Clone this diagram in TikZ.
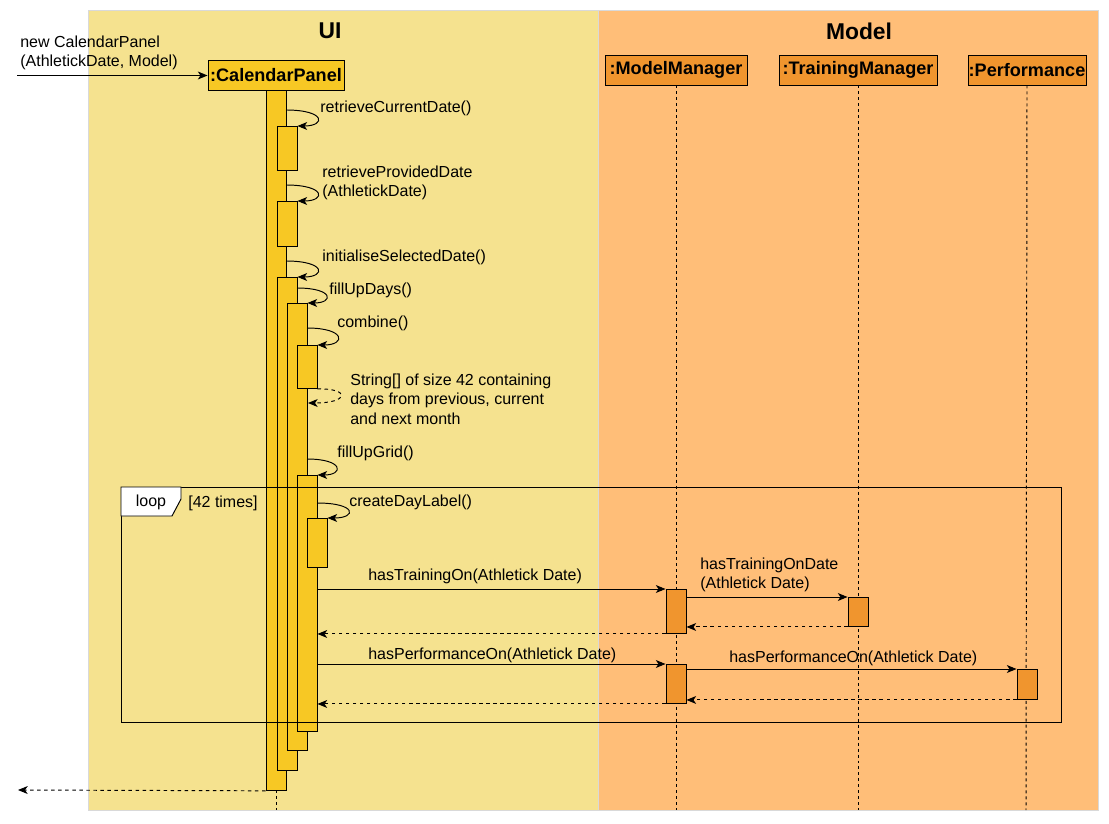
\documentclass[tikz,border=0pt]{standalone}
\usepackage{fontspec}
\setmainfont{Liberation Sans}
\usetikzlibrary{arrows.meta}

\definecolor{uibg}{HTML}{F5E28F}
\definecolor{modelbg}{HTML}{FFBE78}
\definecolor{uiyellow}{HTML}{F7C824}
\definecolor{modelorange}{HTML}{F0952E}
\definecolor{laneedge}{HTML}{D9D9D9}

\tikzset{
  every node/.style={font=\fontsize{9.1}{11.2}\selectfont, inner sep=0pt},
  lbl/.style={anchor=west, align=left},
  lanetitle/.style={font=\fontsize{13}{15}\selectfont\bfseries},
  obj/.style={draw=black, line width=0.55pt, minimum height=0.6cm,
    font=\fontsize{10.3}{12}\selectfont\bfseries},
  act/.style={draw=black, line width=0.55pt, fill=uiyellow, minimum width=0.4cm, anchor=north},
  life/.style={line width=0.55pt, dash pattern=on 1.7pt off 1.7pt},
  msg/.style={line width=0.55pt, -{Stealth[length=5.5pt,width=4.5pt,inset=1.5pt]}},
  ret/.style={msg, dash pattern=on 2pt off 2pt}
}

\begin{document}
\begin{tikzpicture}[x=0.02cm, y=-0.02cm]
  \useasboundingbox (0,0) rectangle (1109,824);

  % lanes
  \fill[uibg, draw=laneedge] (88,10) rectangle (598,810);
  \fill[modelbg, draw=laneedge] (598,10) rectangle (1098,810);
  \node[lanetitle] (uititle) at (330,31) {UI};
  \node[lanetitle] (modeltitle) at (859,31) {Model};

  % objects
  \node[obj, fill=uiyellow, minimum width=2.72cm] (cp) at (276,75.5) {:CalendarPanel};
  \node[obj, fill=modelorange, minimum width=2.84cm] (mm) at (676,70) {:ModelManager};
  \node[obj, fill=modelorange, minimum width=3.16cm] (tm) at (858,70) {:TrainingManager};
  \node[obj, fill=modelorange, minimum width=2.36cm] (pf) at (1027,70) {:Performance};

  \coordinate (cpend) at (276,810);
  \coordinate (mmend) at (676,810);
  \coordinate (tmend) at (858,810);
  \coordinate (pfend) at (1026,810);
  \draw[life] (cp.south) -- (cpend);
  \draw[life] (mm.south) -- (mmend);
  \draw[life] (tm.south) -- (tmend);
  \draw[life] (pf.south) -- (pfend);

  % activations
  \node[act, minimum height=14cm] (a1) at (276,90) {};
  \node[act, minimum height=0.88cm] (a2) at (287,126) {};
  \node[act, minimum height=0.9cm] (a3) at (287,201) {};
  \node[act, minimum height=9.86cm] (a4) at (287,277) {};
  \node[act, minimum height=8.94cm] (a5) at (297,303) {};
  \node[act, minimum height=0.86cm] (a6) at (307,345) {};
  \node[act, minimum height=5.12cm] (a7) at (307,475) {};
  \node[act, minimum height=0.98cm] (a8) at (317,518) {};
  \node[act, fill=modelorange, minimum height=0.88cm] (mm1) at (676,589) {};
  \node[act, fill=modelorange, minimum height=0.78cm] (mm2) at (676,664) {};
  \node[act, fill=modelorange, minimum height=0.58cm] (tm1) at (858,597) {};
  \node[act, fill=modelorange, minimum height=0.6cm] (pf1) at (1027,669) {};

  % loop frame
  \node[draw=black, line width=0.55pt, minimum width=18.8cm, minimum height=4.7cm,
    anchor=north west] (loopbox) at (121,487) {};
  \draw[fill=white, line width=0.55pt] (loopbox.north west) -- ++(60,0) -- ++(0,12)
    -- ++(-9,17) -- ++(-51,0) -- cycle;
  \node (looptag) at (151,502) {loop};
  \node[lbl] (loopguard) at (188,503) {[42 times]};

  % entry and exit
  \coordinate (entry) at (17,75.5);
  \coordinate (exit) at (18,790);
  \draw[msg] (entry) -- (cp.west);
  \node[lbl] (newlbl) at (20,53) {new CalendarPanel\\(AthletickDate, Model)};
  \draw[ret] (a1.south west) -- (exit);

  % self calls
  \coordinate (s1) at (286,110);
  \coordinate (s2) at (286,185);
  \coordinate (s3) at (286,261);
  \coordinate (s4) at (297,288);
  \coordinate (s5) at (307,328);
  \coordinate (s6) at (307,459);
  \coordinate (s7) at (317,503);
  \coordinate (r5) at (308,403);
  \draw[msg] (s1) .. controls (326,110) and (326,126) .. (a2.north east);
  \draw[msg] (s2) .. controls (326,185) and (326,201) .. (a3.north east);
  \draw[msg] (s3) .. controls (326,261) and (326,277) .. (a4.north east);
  \draw[msg] (s4) .. controls (334,288) and (334,303) .. (a5.north east);
  \draw[msg] (s5) .. controls (346,328) and (346,345) .. (a6.north east);
  \draw[ret] (a6.south east) .. controls (350,388) and (350,403) .. (r5);
  \draw[msg] (s6) .. controls (344,459) and (344,475) .. (a7.north east);
  \draw[msg] (s7) .. controls (357,503) and (357,518) .. (a8.north east);

  \node[lbl] (l1) at (320,108) {retrieveCurrentDate()};
  \node[lbl] (l2) at (322,183) {retrieveProvidedDate\\(AthletickDate)};
  \node[lbl] (l3) at (322,257) {initialiseSelectedDate()};
  \node[lbl] (l4) at (329,290) {fillUpDays()};
  \node[lbl] (l5) at (337,323) {combine()};
  \node[lbl] (l5r) at (350,399) {String[] of size 42 containing\\days from previous, current\\and next month};
  \node[lbl] (l6) at (337,453) {fillUpGrid()};
  \node[lbl] (l7) at (349,502) {createDayLabel()};

  % calls to model
  \draw[msg] (a7.east |- mm1.north) -- (mm1.north west);
  \node[lbl] (l8) at (368,576) {hasTrainingOn(Athletick Date)};
  \draw[msg] (mm1.east |- tm1.north) -- (tm1.north west);
  \node[lbl] (l9) at (700,575) {hasTrainingOnDate\\(Athletick Date)};
  \draw[ret] (tm1.south west) -- (mm1.east |- tm1.south);
  \draw[ret] (mm1.south west) -- (a7.east |- mm1.south);

  \draw[msg] (a7.east |- mm2.north) -- (mm2.north west);
  \node[lbl] (l10) at (368,655) {hasPerformanceOn(Athletick Date)};
  \draw[msg] (mm2.east |- pf1.north) -- (pf1.north west);
  \node[lbl] (l11) at (729,658) {hasPerformanceOn(Athletick Date)};
  \draw[ret] (pf1.south west) -- (mm2.east |- pf1.south);
  \draw[ret] (mm2.south west) -- (a7.east |- mm2.south);
\end{tikzpicture}
\end{document}
